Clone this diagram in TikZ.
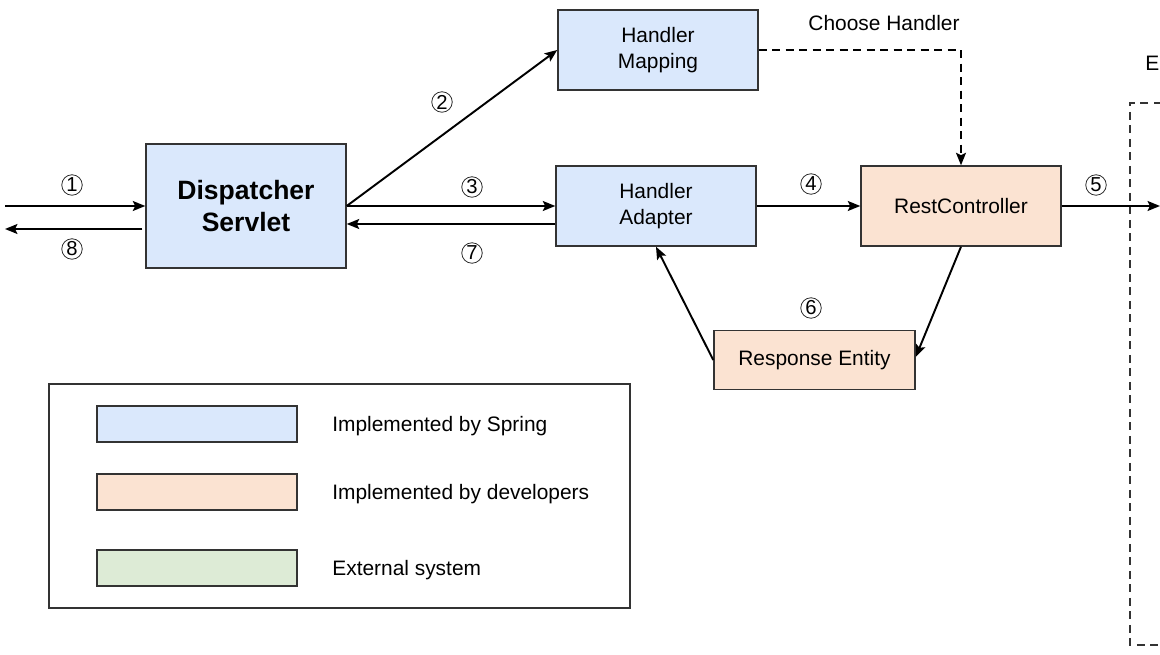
\documentclass[tikz,border=0pt]{standalone}
\usepackage{fontspec}
\setmainfont{Liberation Sans}
\usetikzlibrary{arrows.meta,calc}
\definecolor{springblue}{HTML}{DAE8FC}
\definecolor{devorange}{HTML}{FBE3D2}
\definecolor{extgreen}{HTML}{DDEBD6}
\definecolor{edge}{HTML}{333333}
\newcommand\twolines[2]{\raisebox{-1.4pt}{\parbox{3.6cm}{\centering #1\\#2}}}
\tikzset{
  box/.style={draw=edge, line width=0.85pt, rectangle, inner sep=0pt, minimum width=4cm, minimum height=1.6cm, align=center, font=\fontsize{11.9}{14.5}\selectfont},
  sbox/.style={box, fill=springblue},
  dbox/.style={box, fill=devorange},
  conn/.style={line width=1.1pt, -{Stealth[length=2.5mm, width=2mm, inset=0.5mm]}},
  dconn/.style={conn, dash pattern=on 1.6mm off 1.1mm},
  num/.style={circle, draw=black!85, line width=0.45pt, minimum size=0.41cm, inner sep=0pt, font=\fontsize{11.5}{12}\selectfont},
  lbl/.style={font=\fontsize{11.9}{14}\selectfont, inner sep=0pt},
}
\begin{document}
\begin{tikzpicture}[x=0.02cm, y=-0.02cm]
\useasboundingbox (0,0) rectangle (1160,655);
\clip (0,0) rectangle (1160,655);
% main boxes
\node[sbox, minimum height=2.48cm, font=\bfseries\fontsize{15.1}{18.5}\selectfont] (ds) at (246,206) {Dispatcher\\Servlet};
\node[sbox] (hm) at (658,50) {\twolines{Handler}{Mapping}};
\node[sbox] (ha) at (656,206) {\twolines{Handler}{Adapter}};
\node[dbox] (rc) at (961,206) {RestController};
\node[dbox, minimum width=4.02cm, minimum height=1.18cm] (re) at (814.5,360) {Response Entity};
% external dashed frame
\node[lbl, anchor=west] (ext) at (1145,63) {E};
\coordinate (fa) at (1130,103);
\coordinate (fb) at (1175,645);
\draw[edge, line width=1.1pt, dash pattern=on 1.6mm off 1.1mm] ($(fa)+(45,0)$) -- (fa) -- (fa |- fb) -- (fb);
% free ends
\coordinate (in1) at (5,206);
\coordinate (out8) at (5,229);
\coordinate (out5) at (1160,206);
% connectors
\draw[conn] (in1) -- (ds.west);
\draw[conn] ($(ds.west)+(-3,23)$) -- (out8);
\draw[conn] (ds.east) -- (hm.west);
\draw[conn] (ds.east) -- (ha.west);
\draw[conn] ($(ha.west)+(0,18)$) -- ($(ds.east)+(0,18)$);
\draw[conn] (ha.east) -- (rc.west);
\draw[conn] (rc.east) -- (out5);
\draw[dconn] (hm.east) -| (rc.north);
\draw[conn] (rc.south) -- ($(re.east)+(0,-3)$);
\draw[conn] (re.west) -- (ha.south);
% labels
\node[num] (n1) at (72,185) {1};
\node[num] (n8) at (72,249) {8};
\node[num] (n2) at (442,102) {2};
\node[num] (n3) at (472,187) {3};
\node[num] (n7) at (472,253) {7};
\node[num] (n4) at (811,184) {4};
\node[num] (n5) at (1096,185) {5};
\node[num] (n6) at (811,308) {6};
\node[lbl] (ch) at (884,23) {Choose Handler};
% legend
\node[draw=edge, line width=0.85pt, rectangle, minimum width=11.62cm, minimum height=4.48cm, inner sep=0pt] (leg) at (339.5,496) {};
\node[box, fill=springblue, minimum height=0.72cm] (l1) at (197,424) {};
\node[box, fill=devorange, minimum height=0.72cm] (l2) at (197,492) {};
\node[box, fill=extgreen, minimum height=0.72cm] (l3) at (197,568) {};
\node[lbl, anchor=west] (t1) at (332,426) {Implemented by Spring};
\node[lbl, anchor=west] (t2) at (332,494) {Implemented by developers};
\node[lbl, anchor=west] (t3) at (332,570) {External system};
\end{tikzpicture}
\end{document}
